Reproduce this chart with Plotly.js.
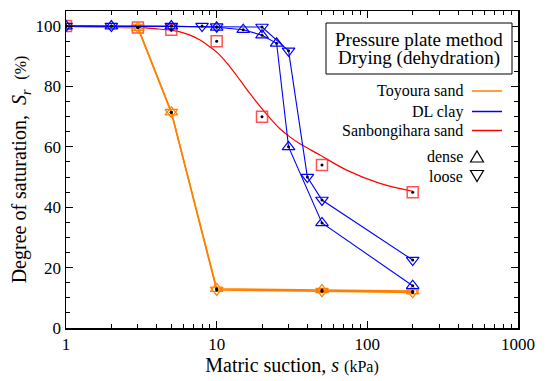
<!DOCTYPE html>
<html><head><meta charset="utf-8">
<script src="https://cdn.plot.ly/plotly-3.0.1.min.js"></script>
<style>html,body{margin:0;padding:0;background:#fff}#chart{width:555px;height:381px}</style>
</head><body><div id="chart"></div>
<script>
// Toyoura sand (orange)
const toyX = [1, 3, 5, 10, 50, 200];
const toyDenseY = [100, 99.5, 71.5, 13, 12.6, 12.2];
const toyLooseY = [100, 99.5, 71.5, 12.6, 12.2, 11.8];
// DL clay (blue)
const dlDenseX = [1, 2, 5, 10, 15, 20, 25, 30, 50, 200];
const dlDenseY = [100, 100, 100, 99.6, 98.8, 97, 94.3, 60, 34.8, 14];
const dlLooseX = [1, 2, 5, 8, 10, 20, 30, 40, 50, 200];
const dlLooseY = [100, 100, 100, 100, 99.8, 99.7, 91.8, 50, 42.4, 22.5];
// Sanbongihara sand (red) measured points and fitted curve
const sbX = [1, 3, 5, 10, 20, 50, 200];
const sbY = [100, 99.5, 98.8, 95, 70, 54, 45];
const sbCurveX = [1, 2, 3, 4, 5, 5.71, 6.65, 7.75, 9.03, 10.5, 12.25, 14.3, 16.6, 19.4, 22.6, 26.3, 30.6, 35.7, 48.4, 72.9, 121, 200];
const sbCurveY = [100, 99.9, 99.6, 99.1, 98.6, 98.1, 97.0, 95.4, 93.1, 90.4, 86.5, 82.1, 77.7, 73.4, 69.5, 66.0, 63.3, 61.0, 57.3, 52.3, 47.9, 45.3];

const ORANGE = '#ff8000', BLUE = '#0000ff', RED = '#ff0000';
const serif = '"Liberation Serif", "Times New Roman", serif';

const traces = [
  {x: sbCurveX, y: sbCurveY, mode: 'lines', line: {color: RED, width: 1.2, shape: 'spline', smoothing: 1}},
  {x: sbX, y: sbY, mode: 'markers', marker: {symbol: 'square-open', size: 11, color: 'rgba(255,40,40,0.8)', line: {width: 1.5}}},
  {x: toyX, y: toyDenseY, mode: 'lines+markers', line: {color: ORANGE, width: 1.6},
   marker: {symbol: 'triangle-up-open', size: 11, color: ORANGE, line: {width: 1.2}}},
  {x: toyX, y: toyLooseY, mode: 'lines+markers', line: {color: ORANGE, width: 1.6},
   marker: {symbol: 'triangle-down-open', size: 11, color: ORANGE, line: {width: 1.2}}},
  {x: dlDenseX, y: dlDenseY, mode: 'lines+markers', line: {color: BLUE, width: 1.1},
   marker: {symbol: 'triangle-up-open', size: 11, color: BLUE, line: {width: 1.2}}},
  {x: dlLooseX, y: dlLooseY, mode: 'lines+markers', line: {color: BLUE, width: 1.1},
   marker: {symbol: 'triangle-down-open', size: 11, color: BLUE, line: {width: 1.2}}},
];
[[sbX, sbY], [toyX, toyDenseY], [toyX, toyLooseY], [dlDenseX, dlDenseY], [dlLooseX, dlLooseY]].forEach(([xs, ys]) => {
  traces.push({x: xs, y: ys, mode: 'markers', marker: {symbol: 'circle', size: 3, color: '#000'}});
});

const legendItems = [
  {text: 'Toyoura sand', color: ORANGE, y: 91},
  {text: 'DL clay', color: BLUE, y: 111.5},
  {text: 'Sanbongihara sand', color: RED, y: 130.5},
];
const boxLines = ['Pressure plate method', 'Drying (dehydration)'];
const H = 381, W = 555;
const px = v => (v - 66) / 452;
const py = v => 1 - (v - 11) / 317;
const annotations = [];
const shapes = [
  {type: 'rect', xref: 'paper', yref: 'paper', x0: px(326), x1: px(512), y0: py(74), y1: py(23),
   line: {color: '#000', width: 1}, fillcolor: '#fff', layer: 'above'},
];
boxLines.forEach((t, i) => {
  annotations.push({xref: 'paper', yref: 'paper', x: px(419), y: py(39 + i * 19.5), xanchor: 'center', yanchor: 'middle',
    text: t, showarrow: false, font: {family: serif, size: 19, color: '#000'}});
});
legendItems.forEach(it => {
  annotations.push({xref: 'paper', yref: 'paper', x: px(465), y: py(it.y), xanchor: 'right', yanchor: 'middle',
    text: it.text, showarrow: false, font: {family: serif, size: 16, color: '#000'}});
  shapes.push({type: 'line', xref: 'paper', yref: 'paper', x0: px(472), x1: px(502),
    y0: py(it.y), y1: py(it.y), line: {color: it.color, width: 1.5}});
});
// legend key for dense (up) / loose (down) triangles
[['dense', 156.5, 1], ['loose', 176, -1]].forEach(([t, yy, dir]) => {
  annotations.push({xref: 'paper', yref: 'paper', x: px(465), y: py(yy), xanchor: 'right', yanchor: 'middle',
    text: t, showarrow: false, font: {family: serif, size: 16, color: '#000'}});
  const cx = 477, hw = 6.5, hh = 5.5;
  const tip = yy - dir * hh, base = yy + dir * hh;
  shapes.push({type: 'path', xref: 'paper', yref: 'paper',
    path: `M ${px(cx - hw)} ${py(base)} L ${px(cx + hw)} ${py(base)} L ${px(cx)} ${py(tip)} Z`,
    line: {color: '#000', width: 1.2}, fillcolor: 'rgba(0,0,0,0)'});
});

const layout = {
  width: W, height: H, showlegend: false,
  margin: {l: 66, r: 37, t: 11, b: 53},
  paper_bgcolor: '#fff', plot_bgcolor: '#fff',
  font: {family: serif, size: 16, color: '#000'},
  xaxis: {type: 'log', range: [0, 3], dtick: 1, showgrid: false, zeroline: false,
    showline: true, linecolor: '#000', linewidth: 1.5, mirror: 'allticks',
    ticks: 'inside', ticklen: 7, tickwidth: 1, tickcolor: '#000',
    minor: {ticks: 'inside', ticklen: 4, tickwidth: 1, tickcolor: '#000', showgrid: false},
    tickfont: {family: serif, size: 17},
    title: {text: 'Matric suction, <i>s</i> <span style="font-size:16px">(kPa)</span>', font: {family: serif, size: 20}, standoff: 2}},
  yaxis: {range: [0, 105], dtick: 20, showgrid: false, zeroline: false,
    showline: true, linecolor: '#000', linewidth: 1.5, mirror: 'allticks',
    ticks: 'inside', ticklen: 7, tickwidth: 1, tickcolor: '#000',
    minor: {dtick: 5, ticks: 'inside', ticklen: 4, tickwidth: 1, tickcolor: '#000', showgrid: false},
    tickfont: {family: serif, size: 17},
    title: {text: 'Degree of saturation,  <i>S<sub>r</sub></i>  <span style="font-size:16px">(%)</span>', font: {family: serif, size: 20}, standoff: 3}},
  annotations, shapes,
};
Plotly.newPlot('chart', traces, layout, {displayModeBar: false, staticPlot: true});
</script></body></html>
